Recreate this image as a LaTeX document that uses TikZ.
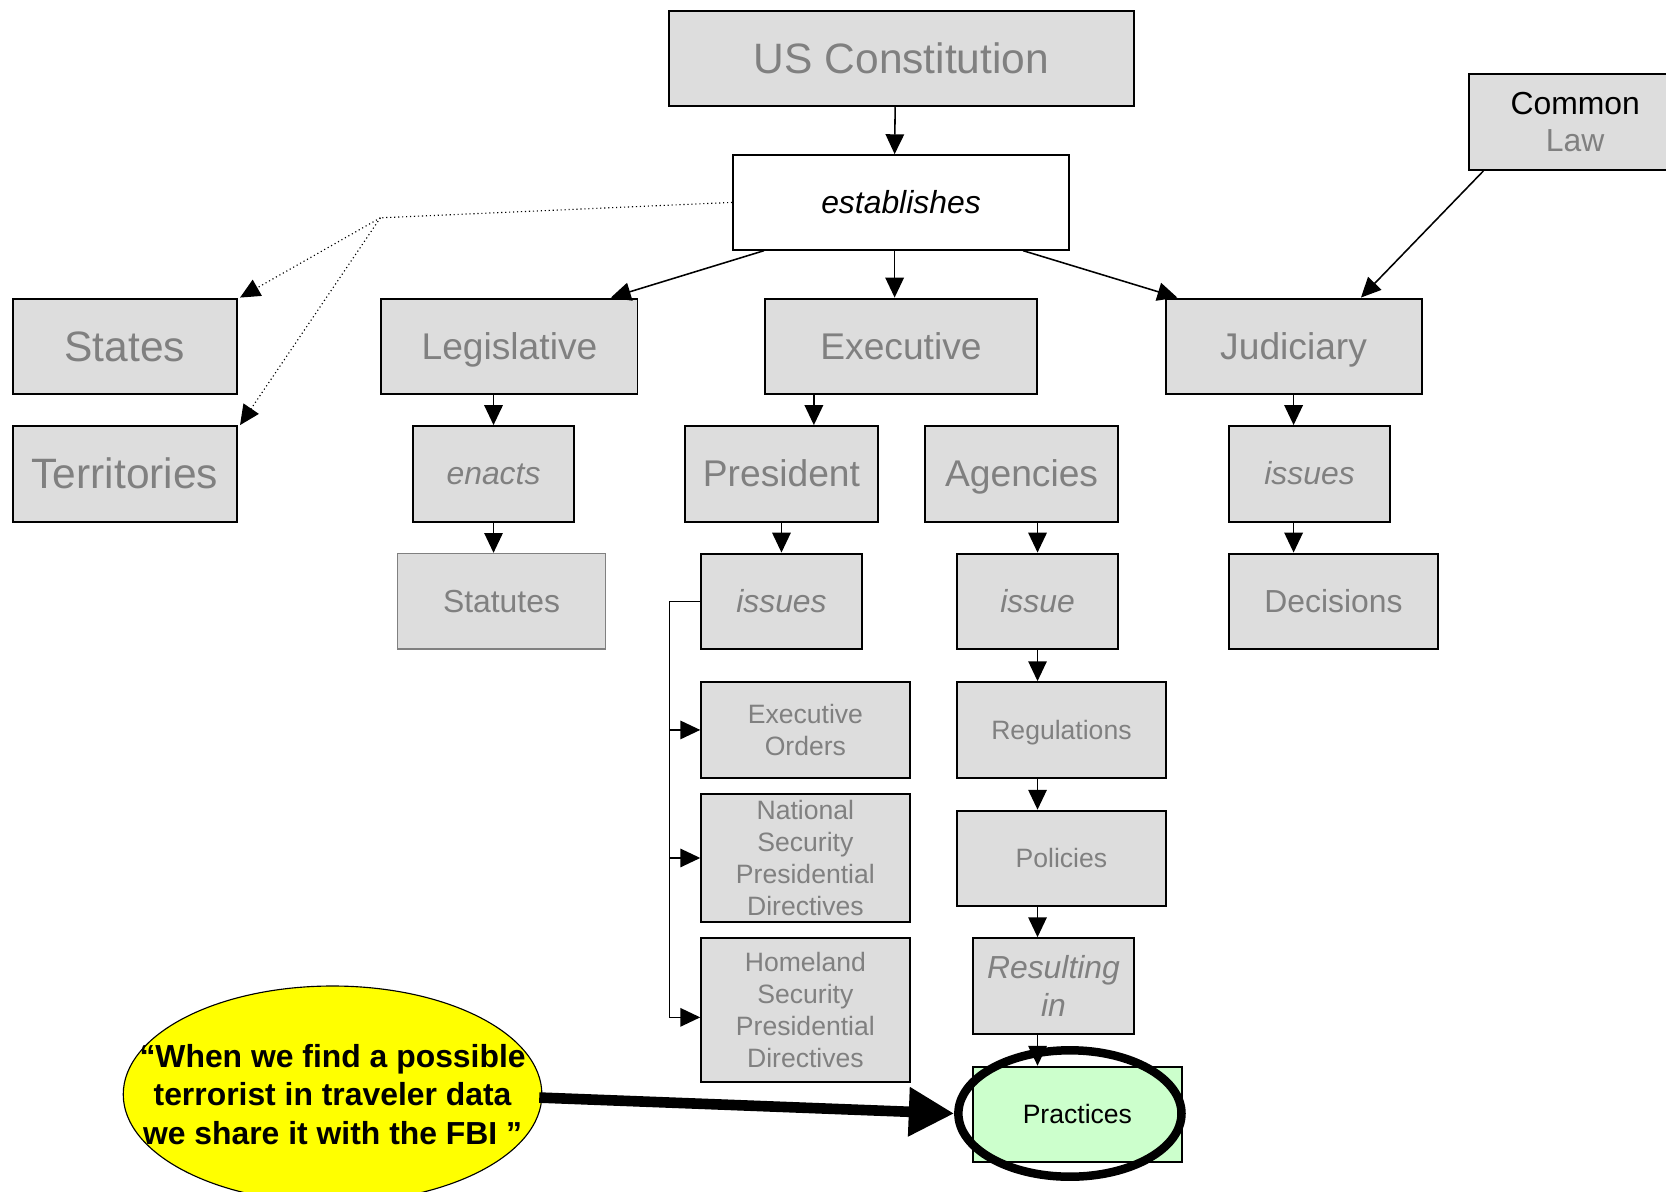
\documentclass[tikz,border=0pt]{standalone}
\usepackage{fontspec}
\setmainfont{Liberation Sans}
\usetikzlibrary{arrows.meta,shapes.geometric,calc}
\definecolor{boxfill}{HTML}{DDDDDD}
\definecolor{boxtext}{HTML}{808080}
\definecolor{greenfill}{HTML}{CCFFCC}
\definecolor{quotefill}{HTML}{FFFF00}
\newcommand\fs[2]{\fontsize{#1}{#2}\selectfont}
% box from corner (x1,y1) to corner (x2,y2), y measured downwards
\newcommand\bx[7]{\node[#6, minimum width={(#4-#2)*0.75pt}, minimum height={(#5-#3)*0.75pt}] (#1) at ({(#2+#4)/2},{-(#3+#5)/2}) {#7};}
\tikzset{
  box/.style={draw=black, line width=1.4pt, fill=boxfill, text=boxtext, inner sep=0pt, align=center},
  whitebox/.style={box, fill=white, text=black},
  palebox/.style={box, draw=boxtext, line width=1pt},
  greenbox/.style={box, fill=greenfill, text=black},
  % single line: fixed ascent/descent for a font of size #1 pt
  one/.style={text height={#1*0.9pt}, text depth={#1*0.21pt}},
  huge/.style={font=\fs{30}{36}, one=30},
  big/.style={font=\fs{26.25}{31}, one=26.25},
  mid/.style={font=\fs{22.5}{26.25}, one=22.5},
  midit/.style={font=\fs{22.5}{26.25}\itshape, one=22.5},
  twoit/.style={font=\fs{22.5}{26.25}\itshape},
  two/.style={font=\fs{22.5}{26.25}},
  small/.style={font=\fs{18.75}{22.5}},
  smallone/.style={small, one=18.75},
  link/.style={line width=1.1pt, -{Triangle[length=14pt,width=13pt]}},
  dotlink/.style={line width=0.8pt, dotted, -{Triangle[length=14pt,width=13pt]}},
  bus/.style={line width=1.1pt},
}
\begin{document}
\begin{tikzpicture}[x=0.75pt,y=0.75pt]
\clip (0,0) rectangle (1568,-1121);
\fill[white] (0,0) rectangle (1568,-1121);

% top of the hierarchy
\bx{uc}{630}{10}{1067}{100}{box,huge}{US Constitution}
\bx{est}{690}{146}{1006}{235}{whitebox,midit}{establishes}
\bx{cl}{1383}{70}{1582}{160}{box,two}{{\color{black}Common}\\Law}

% branches and other jurisdictions
\bx{sta}{12}{281}{223}{371}{box,huge}{States}
\bx{ter}{12}{401}{223}{491}{box,huge}{Territories}
\bx{leg}{359}{281}{600}{371}{box,big}{Legislative}
\bx{exe}{720}{281}{976}{371}{box,big}{Executive}
\bx{jud}{1097}{281}{1338}{371}{box,big}{Judiciary}

% second level
\bx{ena}{389}{401}{540}{491}{box,midit}{enacts}
\bx{pre}{645}{401}{826}{491}{box,big}{President}
\bx{age}{871}{401}{1052}{491}{box,big}{Agencies}
\bx{isj}{1157}{401}{1308}{491}{box,midit}{issues}

% third level
\bx{stt}{374}{521}{570}{611}{palebox,mid}{Statutes}
\bx{isp}{660}{521}{811}{611}{box,midit}{issues}
\bx{iss}{901}{521}{1052}{611}{box,midit}{issue}
\bx{dec}{1157}{521}{1353}{611}{box,mid}{Decisions}

% presidential instruments
\bx{eo}{660}{642}{856}{732}{box,small}{Executive\\Orders}
\bx{nspd}{660}{747}{856}{868}{box,small}{National\\Security\\Presidential\\Directives}
\bx{hspd}{660}{883}{856}{1018}{box,small}{Homeland\\Security\\Presidential\\Directives}

% agency chain
\bx{reg}{901}{642}{1097}{732}{box,smallone}{Regulations}
\bx{pol}{901}{763}{1097}{853}{box,smallone}{Policies}
\bx{res}{916}{883}{1067}{973}{box,twoit}{Resulting\\in}
\bx{pra}{916}{1004}{1112}{1094}{greenbox,smallone}{Practices}

% connectors from the constitution
\draw[link] ($(uc.south)+(-6,0)$) -- ($(est.north)+(-6,0)$);
\draw[link] ($(est.south west)+(30,0)$) -- ($(leg.north east)+(-26,0)$);
\draw[link] ($(est.south)+(-6,0)$) -- ($(exe.north)+(-6,0)$);
\draw[link] ($(est.south east)+(-44,0)$) -- ($(jud.north west)+(12,0)$);
\draw[link] ($(cl.south west)+(14,0)$) -- ($(jud.north east)+(-58,0)$);

\coordinate (dj) at (358,-205);
\draw[line width=0.8pt, dotted] (est.west) -- (dj);
\draw[dotlink] (dj) -- ($(sta.north east)+(2,0)$);
\draw[dotlink] (dj) -- ($(ter.north east)+(2,0)$);

% vertical chains
\draw[link] (ena.north |- leg.south) -- (ena.north);
\draw[link] (ena.south) -- (ena.south |- stt.north);

\coordinate (xe) at (766,0);
\draw[link] (exe.south -| xe) -- (pre.north -| xe);
\draw[link] (pre.south) -- (isp.north);

\draw[link] (iss.north |- age.south) -- (iss.north);
\draw[link] (iss.south) -- (iss.south |- reg.north);
\draw[link] (iss.south |- reg.south) -- (iss.south |- pol.north);
\draw[link] (iss.south |- pol.south) -- (iss.south |- res.north);
\draw[link] (iss.south |- res.south) -- (iss.south |- pra.north);

\draw[link] (jud.south) -- (jud.south |- isj.north);
\draw[link] (jud.south |- isj.south) -- (jud.south |- dec.north);

% bus from the president's issues
\coordinate (bus) at (630,0);
\coordinate (hin) at ($(hspd.west)+(0,-7)$);
\draw[bus] (isp.west) -- (isp.west -| bus) -- (bus |- hin);
\draw[link] (bus |- eo.west) -- (eo.west);
\draw[link] (bus |- nspd.west) -- (nspd.west);
\draw[link] (bus |- hin) -- (hin);

% highlight of practices
\node[draw=black, line width=6pt, ellipse, minimum width={210*0.75pt}, minimum height={119*0.75pt}, inner sep=0pt] (ring) at (1007,-1048) {};
\node[draw=black, line width=0.8pt, fill=quotefill, ellipse, minimum width={394*0.75pt}, minimum height={204*0.75pt}, inner sep=0pt] (quote) at (313,-1030) {};
\node[align=center, inner sep=0pt, font=\fs{22.5}{27}\bfseries] (quotetext) at (quote.center)
  {“When we find a possible\\terrorist in traveler data\\we share it with the FBI ”};
\draw[line width=7.5pt, -{Triangle[length=32pt,width=33pt]}] ($(quote.east)+(-3,-3)$) -- (ring.west);
\end{tikzpicture}
\end{document}
